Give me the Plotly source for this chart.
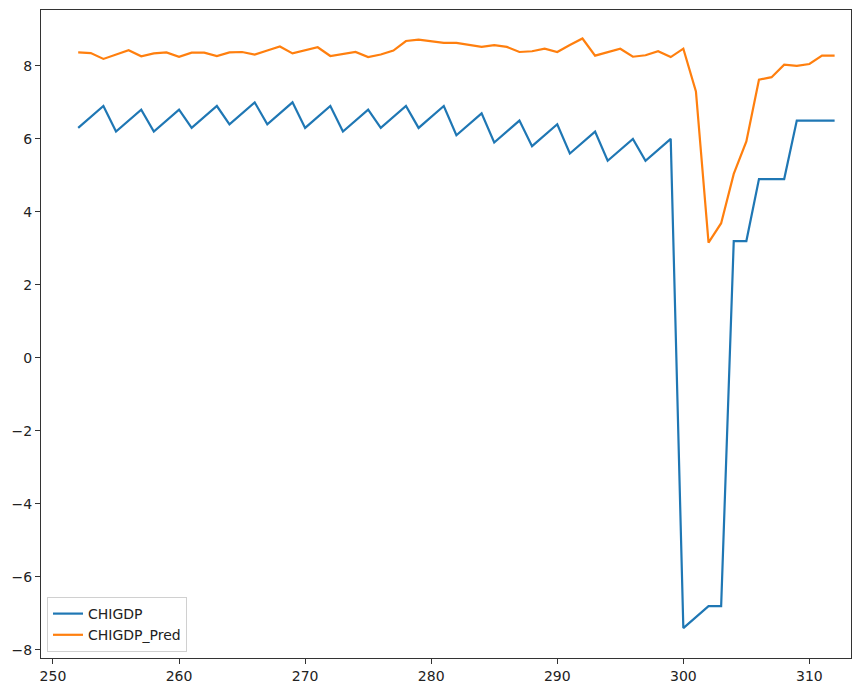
import plotly.graph_objects as go

# Period index
periods = list(range(252, 313))

# Actual GDP growth
chigdp = [
    6.3, 6.6, 6.9, 6.2, 6.5, 6.8, 6.2, 6.5, 6.8, 6.3,
    6.6, 6.9, 6.4, 6.7, 7.0, 6.4, 6.7, 7.0, 6.3, 6.6,
    6.9, 6.2, 6.5, 6.8, 6.3, 6.6, 6.9, 6.3, 6.6, 6.9,
    6.1, 6.4, 6.7, 5.9, 6.2, 6.5, 5.8, 6.1, 6.4, 5.6,
    5.9, 6.2, 5.4, 5.7, 6.0, 5.4, 5.7, 6.0, -7.4, -7.1,
    -6.8, -6.8, 3.2, 3.2, 4.9, 4.9, 4.9, 6.5, 6.5, 6.5,
    6.5,
]

# Model prediction
chigdp_pred = [
    8.37, 8.35, 8.19, 8.31, 8.43, 8.26, 8.34, 8.37, 8.25, 8.36,
    8.36, 8.27, 8.37, 8.38, 8.31, 8.42, 8.53, 8.34, 8.43, 8.51,
    8.27, 8.33, 8.38, 8.24, 8.31, 8.42, 8.68, 8.72, 8.68, 8.63,
    8.63, 8.58, 8.52, 8.57, 8.52, 8.38, 8.40, 8.47, 8.38, 8.57,
    8.75, 8.28, 8.37, 8.47, 8.25, 8.29, 8.40, 8.24, 8.47, 7.30,
    3.16, 3.69, 5.04, 5.93, 7.62, 7.69, 8.03, 8.00, 8.05, 8.28,
    8.28,
]

x_ticks = [250, 260, 270, 280, 290, 300, 310]
y_ticks = [-8, -6, -4, -2, 0, 2, 4, 6, 8]

BLUE = "#1f77b4"
ORANGE = "#ff7f0e"
AXIS = "#333333"

fig = go.Figure()
fig.add_trace(go.Scatter(x=periods, y=chigdp, mode="lines", name="CHIGDP",
                         line=dict(color=BLUE, width=2.2)))
fig.add_trace(go.Scatter(x=periods, y=chigdp_pred, mode="lines", name="CHIGDP_Pred",
                         line=dict(color=ORANGE, width=2.2)))

axis_common = dict(
    showgrid=False, zeroline=False, automargin=False,
    showline=True, linecolor=AXIS, linewidth=1.2, mirror=True,
    ticks="outside", ticklen=5, tickwidth=1.2, tickcolor=AXIS,
    tickfont=dict(family="DejaVu Sans", size=14, color="#222222"),
)

fig.update_layout(
    width=864, height=685,
    margin=dict(l=41, r=13, t=10, b=27),
    paper_bgcolor="white", plot_bgcolor="white",
    showlegend=True,
    legend=dict(
        x=6 / 810, y=6 / 648, xanchor="left", yanchor="bottom",
        bgcolor="rgba(255,255,255,0.8)", bordercolor="#d0d0d0", borderwidth=1,
        font=dict(family="DejaVu Sans", size=14, color="#222222"),
        itemwidth=30, tracegroupgap=2,
    ),
    xaxis=dict(range=[249.05, 313.3], tickvals=x_ticks, **axis_common),
    yaxis=dict(range=[-8.22, 9.53], tickvals=y_ticks, **axis_common),
)

fig.write_html("out.html")
